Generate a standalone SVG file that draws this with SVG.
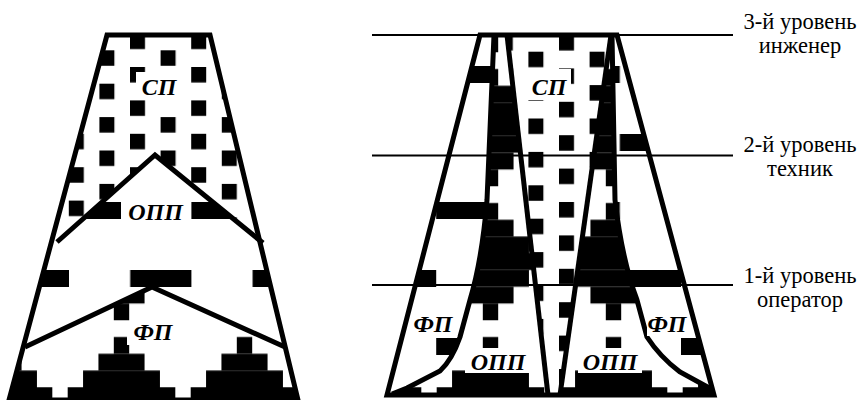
<svg xmlns="http://www.w3.org/2000/svg" width="860" height="400" viewBox="0 0 860 400">
<defs>
<style>
.ol{fill:none;stroke:#000;stroke-width:5;stroke-linejoin:miter}
.lv{stroke:#000;stroke-width:2}
.lb{font-family:"Liberation Serif",serif;font-weight:bold;font-style:italic;font-size:24px;text-anchor:middle;fill:#000}
.lt{font-family:"Liberation Serif",serif;font-size:22.5px;text-anchor:middle;fill:#000}
.wb{fill:#fff}
</style>
<pattern id="sq" patternUnits="userSpaceOnUse" x="130" y="33.6" width="61.2" height="33.4">
<rect x="0" y="0" width="15" height="15.5"/><rect x="30.6" y="16.7" width="15" height="15.5"/>
</pattern>
<pattern id="sq2" patternUnits="userSpaceOnUse" x="559" y="35" width="61.2" height="33.4">
<rect x="0" y="0" width="15" height="15.5"/><rect x="30.6" y="16.7" width="15" height="15.5"/>
</pattern>
<pattern id="bar" patternUnits="userSpaceOnUse" x="69" y="202" width="122.4" height="136">
<rect x="0" y="0" width="61.2" height="17"/><rect x="61.2" y="68" width="61.2" height="17"/>
</pattern>
<pattern id="st" patternUnits="userSpaceOnUse" x="60" y="253.25" width="123" height="134">
<rect x="7.69" y="0" width="107.62" height="16.75"/>
<rect x="23.06" y="16.75" width="76.88" height="16.75"/>
<rect x="38.44" y="33.5" width="46.12" height="16.75"/>
<rect x="53.81" y="50.25" width="15.38" height="16.75"/>
<rect x="53.81" y="83.75" width="15.38" height="16.75"/>
<rect x="38.44" y="100.5" width="46.12" height="16.75"/>
<rect x="23.06" y="117.25" width="76.88" height="16.75"/>
</pattern>
<clipPath id="cL"><polygon points="107,35 210,35 298,400 9,400"/></clipPath>
<clipPath id="cR"><polygon points="480,35 617,35 714,395 387,395"/></clipPath>
</defs>
<rect width="860" height="400" fill="#fff"/>

<g id="left-figure">
<g clip-path="url(#cL)">
<polygon points="107,35 210,35 298,400 9,400" fill="url(#sq)"/>
<polygon points="155,155 0,292.6 0,400 320,400 320,289.4" fill="#fff"/>
<polygon points="155,155 0,292.6 0,400 320,400 320,289.4" fill="url(#bar)"/>
<polygon points="152,287 0,358.8 0,400 320,400 320,362.8" fill="#fff"/>
<polygon points="152,287 0,358.8 0,400 320,400 320,362.8" fill="url(#st)"/>
</g>
<polygon class="ol" points="107,35 210,35 298,400 9,400"/>
<polyline class="ol" points="57,242 155,155 263,243"/>
<polyline class="ol" points="25,347 152,287 285,347"/>
</g>
<g id="left-SP"><rect class="wb" x="136" y="72" width="46" height="28"/><text class="lb" x="159" y="95">СП</text></g>
<g id="left-OPP"><rect class="wb" x="121" y="199" width="69" height="27"/><text class="lb" x="155.5" y="220">ОПП</text></g>
<g id="left-FP"><rect class="wb" x="127" y="321" width="52" height="24"/><text class="lb" x="153" y="340">ФП</text></g>

<g id="right-figure">
<g clip-path="url(#cR)">
<rect x="380" y="30" width="340" height="370" fill="url(#st)"/>
<path d="M480,35 L494,35 L487,200 Q482,260 470,300 L460,337 Q452,360 440,371 L407,388 L392,394 L387,395 Z" fill="#fff"/>
<path d="M480,35 L494,35 L487,200 Q482,260 470,300 L460,337 Q452,360 440,371 L407,388 L392,394 L387,395 Z" fill="url(#bar)"/>
<path d="M612,35 L617,35 L714,395 L713,390 L680,372 Q660,357 647,337 L637,300 Q622,260 615,200 Z" fill="#fff"/>
<path d="M612,35 L617,35 L714,395 L713,390 L680,372 Q660,357 647,337 L637,300 Q622,260 615,200 Z" fill="url(#bar)"/>
<polygon points="507,35 611,35 560,395 548,395" fill="#fff"/>
<polygon points="507,35 611,35 560,395 548,395" fill="url(#sq2)"/>
</g>
<path class="ol" d="M494,35 L487,200 Q482,260 470,300 L460,337 Q452,360 440,371 L407,388 L392,394"/>
<path class="ol" d="M612,35 L615,200 Q622,260 637,300 L647,337 Q660,357 680,372 L713,390"/>
<line class="ol" x1="507" y1="35" x2="548" y2="395"/>
<line class="ol" x1="611" y1="35" x2="560" y2="395"/>
<polygon class="ol" points="480,35 617,35 714,395 387,395"/>
</g>
<g id="right-SP"><rect class="wb" x="526" y="69" width="45" height="31"/><text class="lb" x="549" y="95">СП</text></g>
<g id="right-FP-l"><rect class="wb" x="412" y="313" width="44" height="23"/><text class="lb" x="433" y="332">ФП</text></g>
<g id="right-OPP-l"><rect class="wb" x="465" y="348" width="64" height="25"/><text class="lb" x="498" y="370">ОПП</text></g>
<g id="right-OPP-r"><rect class="wb" x="578" y="348" width="64" height="25"/><text class="lb" x="610" y="370">ОПП</text></g>
<g id="right-FP-r"><rect class="wb" x="647" y="313" width="42" height="23"/><text class="lb" x="667" y="332">ФП</text></g>

<g id="levels">
<line class="lv" x1="372" y1="35" x2="733" y2="35"/>
<line class="lv" x1="372" y1="155.5" x2="733" y2="155.5"/>
<line class="lv" x1="372" y1="285" x2="733" y2="285"/>
</g>
<g id="level-3"><text class="lt" x="800" y="29">3-й уровень</text><text class="lt" x="800" y="53">инженер</text></g>
<g id="level-2"><text class="lt" x="800" y="152">2-й уровень</text><text class="lt" x="800" y="176">техник</text></g>
<g id="level-1"><text class="lt" x="800" y="283">1-й уровень</text><text class="lt" x="800" y="307">оператор</text></g>
</svg>
